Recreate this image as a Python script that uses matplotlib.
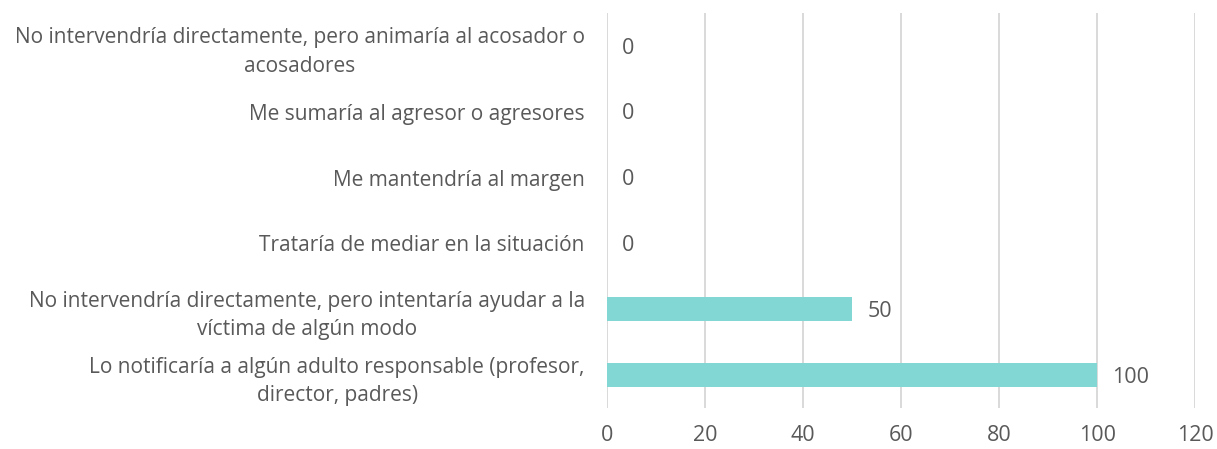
import matplotlib.pyplot as plt

# categorias de arriba hacia abajo
categorias = [
    'No intervendría directamente, pero animaría al acosador o\nacosadores',
    'Me sumaría al agresor o agresores',
    'Me mantendría al margen',
    'Trataría de mediar en la situación',
    'No intervendría directamente, pero intentaría ayudar a la\nvíctima de algún modo',
    'Lo notificaría a algún adulto responsable (profesor,\ndirector, padres)',
]
valores = [0, 0, 0, 0, 50, 100]
ticks_x = [0, 20, 40, 60, 80, 100, 120]

TXT = '#595959'
plt.rcParams['font.family'] = ['Open Sans', 'DejaVu Sans']


def main():
    fig = plt.figure(figsize=(12.17, 4.49), dpi=100)
    ax = fig.add_axes([0.4988, 0.0913, 0.4832, 0.8797])

    pos = list(range(len(categorias)))[::-1]
    barras = ax.barh(pos, valores, height=0.36, color='#82d6d3', zorder=3)

    for b, v in zip(barras, valores):
        ax.annotate(str(v), (b.get_width(), b.get_y() + b.get_height() / 2),
                    xytext=(11, -1.5), textcoords='offset points',
                    va='center', ha='left', fontsize=15.5, color=TXT)

    ax.set_xlim(0, 120)
    ax.set_ylim(-0.5, len(categorias) - 0.5)
    ax.set_xticks(ticks_x)
    ax.set_yticks(pos)
    ax.set_yticklabels(categorias, multialignment='center', linespacing=1.45,
                       fontsize=15)
    ax.tick_params(axis='both', length=0, colors=TXT)
    ax.tick_params(axis='x', labelsize=15.5, pad=12)
    ax.tick_params(axis='y', pad=16)
    ax.grid(axis='x', color='#d9d9d9', linewidth=1.4, zorder=0)
    for s in ax.spines.values():
        s.set_visible(False)

    fig.savefig('out.png', dpi=100)


if __name__ == '__main__':
    main()
